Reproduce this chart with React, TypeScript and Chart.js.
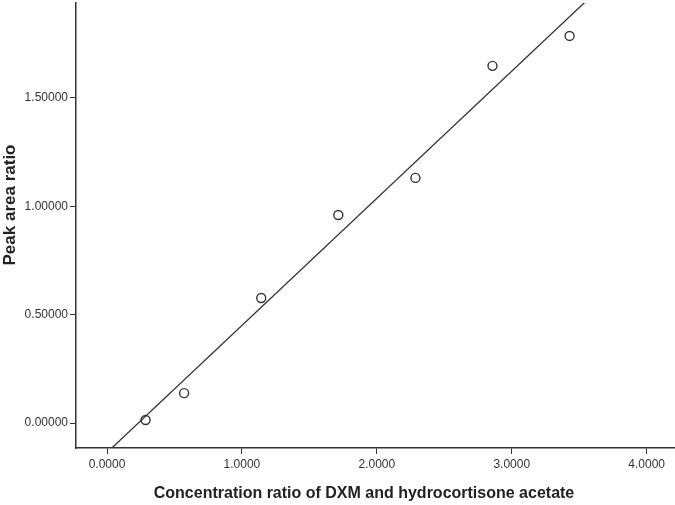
import React, { useEffect, useRef } from "react";
import { Chart, registerables } from "chart.js";

Chart.register(...registerables);

const concentrationRatio = [0.2857, 0.5714, 1.1429, 1.7143, 2.2857, 2.8571, 3.4286];
const peakAreaRatio = [0.014, 0.138, 0.577, 0.96, 1.131, 1.648, 1.786];
const xTicks = [0, 1, 2, 3, 4];
const yTicks = [0, 0.5, 1.0, 1.5];
const xTitle = "Concentration ratio of DXM and hydrocortisone acetate";
const yTitle = "Peak area ratio";

function fit(xs: number[], ys: number[]) {
  const n = xs.length;
  const mx = xs.reduce((a, b) => a + b, 0) / n;
  const my = ys.reduce((a, b) => a + b, 0) / n;
  let sxy = 0, sxx = 0;
  for (let i = 0; i < n; i++) {
    sxy += (xs[i] - mx) * (ys[i] - my);
    sxx += (xs[i] - mx) * (xs[i] - mx);
  }
  const slope = sxy / sxx;
  return { slope, intercept: my - slope * mx };
}

const titlePlugin = {
  id: "axisTitles",
  afterDraw(chart: any) {
    const ctx = chart.ctx;
    ctx.save();
    ctx.fillStyle = "#222222";
    ctx.font = "bold 16px 'Liberation Sans', Arial";
    ctx.textAlign = "center";
    ctx.textBaseline = "middle";
    ctx.fillText(xTitle, 364, 494);
    ctx.translate(10, 205);
    ctx.rotate(-Math.PI / 2);
    ctx.font = "bold 17px 'Liberation Sans', Arial";
    ctx.fillText(yTitle, 0, 0);
    ctx.restore();
  },
};

export default function App() {
  const ref = useRef<HTMLCanvasElement>(null);
  useEffect(() => {
    if (!ref.current) return;
    const { slope, intercept } = fit(concentrationRatio, peakAreaRatio);
    const lineX = [-1, 5];
    const chart = new Chart(ref.current, {
      type: "scatter",
      data: {
        datasets: [
          {
            type: "line",
            data: lineX.map((x) => ({ x, y: slope * x + intercept })),
            borderColor: "#333333",
            borderWidth: 1.3,
            pointRadius: 0,
            fill: false,
            clip: 0,
          } as any,
          {
            data: concentrationRatio.map((x, i) => ({ x, y: peakAreaRatio[i] })),
            pointRadius: 4.5,
            pointBorderWidth: 1.4,
            pointBorderColor: "#333333",
            pointBackgroundColor: "#ffffff",
            showLine: false,
          },
        ],
      },
      plugins: [titlePlugin],
      options: {
        animation: false,
        responsive: false,
        maintainAspectRatio: false,
        layout: { autoPadding: false, padding: { top: 3, right: 0, left: 0, bottom: 0 } },
        plugins: { legend: { display: false }, tooltip: { enabled: false } },
        scales: {
          x: {
            type: "linear",
            min: -0.23,
            max: 4.21,
            afterBuildTicks: (s: any) => {
              s.ticks = xTicks.map((v) => ({ value: v }));
            },
            afterFit: (s: any) => {
              s.height = 57;
              s.paddingLeft = 0;
              s.paddingRight = 0;
            },
            grid: {
              display: true,
              drawOnChartArea: false,
              drawTicks: true,
              tickLength: 6,
              color: "#333333",
              lineWidth: 1,
            },
            border: { display: true, color: "#333333", width: 1.5 },
            ticks: {
              color: "#333333",
              font: { family: "Liberation Sans, Arial", size: 12 },
              padding: 3,
              maxRotation: 0,
              callback: (v: any) => Number(v).toFixed(4),
            },
            title: { display: false },
          },
          y: {
            type: "linear",
            min: -0.115,
            max: 1.938,
            afterBuildTicks: (s: any) => {
              s.ticks = yTicks.map((v) => ({ value: v }));
            },
            afterFit: (s: any) => {
              s.width = 76;
              s.paddingTop = 0;
              s.paddingBottom = 0;
            },
            grid: {
              display: true,
              drawOnChartArea: false,
              drawTicks: true,
              tickLength: 6,
              color: "#333333",
              lineWidth: 1,
            },
            border: { display: true, color: "#333333", width: 1.5 },
            ticks: {
              color: "#333333",
              font: { family: "Liberation Sans, Arial", size: 12 },
              padding: 2,
              callback: (v: any) => Number(v).toFixed(5),
            },
            title: { display: false },
          },
        },
      },
    });
    return () => chart.destroy();
  }, []);
  return (
    <div style={{ position: "fixed", left: 0, top: 0, width: 675, height: 505, background: "#fff" }}>
      <canvas ref={ref} width={675} height={505} style={{ width: 675, height: 505 }} />
    </div>
  );
}
